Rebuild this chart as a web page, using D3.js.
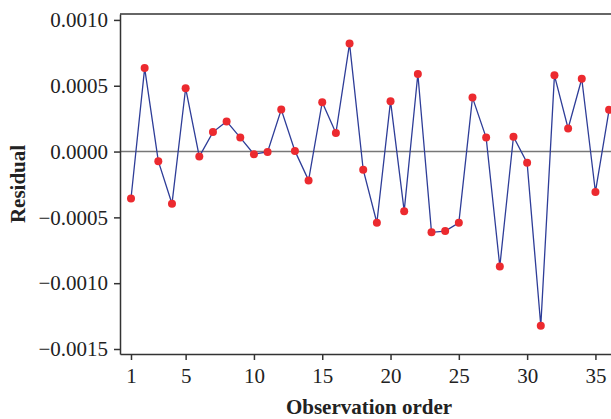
<!DOCTYPE html>
<html>
<head>
<meta charset="utf-8">
<script src="https://cdn.jsdelivr.net/npm/d3@7"></script>
<style>
  body { margin: 0; background: #fff; }
  svg { display: block; }
</style>
</head>
<body>
<svg id="chart" width="611" height="419"></svg>
<script>
// residuals in observation order
var observations = d3.range(1, 37);
var residuals = [
  -0.000357, 0.000634, -0.000073, -0.000397, 0.000481, -0.000038, 0.000148, 0.000229, 0.000106, -0.000020,
  -0.000003, 0.000319, 0.000005, -0.000219, 0.000375, 0.000141, 0.000820, -0.000138, -0.000541, 0.000383,
  -0.000453, 0.000589, -0.000614, -0.000604, -0.000541, 0.000410, 0.000106, -0.000873, 0.000113, -0.000086,
  -0.001323, 0.000579, 0.000176, 0.000553, -0.000307, 0.000317
];
var xTicks = [1, 5, 10, 15, 20, 25, 30, 35];
var yTicks = [0.0010, 0.0005, 0.0000, -0.0005, -0.0010, -0.0015];

function drawResidualPlot(svg_id) {
    var svg = d3.select("#" + svg_id),
        margin = {top: 14, left: 120, bottom: 65, right: 0},
        width = 611,
        height = 419;

    var data = observations.map((o, i) => ({obs: o, res: residuals[i]}));

    var x = d3.scaleLinear()
        .domain([0.195, 36.14])
        .range([margin.left, width - margin.right]);

    var y = d3.scaleLinear()
        .domain([-0.001538, 0.001045])
        .range([height - margin.bottom, margin.top]);

    var fmt = v => (v < 0 ? "\u2212" : "") + Math.abs(v).toFixed(4);

    // frame top
    svg.append("line")
        .attr("x1", margin.left).attr("x2", width)
        .attr("y1", margin.top).attr("y2", margin.top)
        .attr("stroke", "#333").attr("stroke-width", 1.5);

    // zero reference line
    svg.append("line")
        .attr("x1", margin.left).attr("x2", width)
        .attr("y1", y(0)).attr("y2", y(0))
        .attr("stroke", "#777").attr("stroke-width", 1.5);

    var yAxis = svg.append("g")
        .attr("transform", `translate(${margin.left},0)`)
        .call(d3.axisLeft(y).tickValues(yTicks).tickFormat(fmt).tickSize(6).tickSizeOuter(0).tickPadding(6));

    var xAxis = svg.append("g")
        .attr("transform", `translate(0,${height - margin.bottom})`)
        .call(d3.axisBottom(x).tickValues(xTicks).tickSize(6).tickSizeOuter(0).tickPadding(8));

    svg.selectAll(".domain, .tick line").attr("stroke", "#333").attr("stroke-width", 1.5);
    svg.selectAll(".tick text")
        .style("font-family", "'Liberation Serif', serif")
        .style("font-size", "21px")
        .attr("fill", "#222");

    // line + points
    var line = d3.line().x(d => x(d.obs)).y(d => y(d.res));
    svg.append("path")
        .datum(data)
        .attr("fill", "none")
        .attr("stroke", "#2e3d98")
        .attr("stroke-width", 1.3)
        .attr("d", line);

    svg.selectAll("circle.pt")
        .data(data)
        .enter().append("circle")
        .attr("class", "pt")
        .attr("cx", d => x(d.obs))
        .attr("cy", d => y(d.res))
        .attr("r", 4)
        .attr("fill", "#ec2a2f");

    // titles
    svg.append("text")
        .attr("transform", "translate(25,184) rotate(-90)")
        .attr("text-anchor", "middle")
        .style("font-family", "'Liberation Serif', serif")
        .style("font-weight", "bold")
        .style("font-size", "21px")
        .attr("fill", "#222")
        .text("Residual");

    svg.append("text")
        .attr("x", 369).attr("y", 414)
        .attr("text-anchor", "middle")
        .style("font-family", "'Liberation Serif', serif")
        .style("font-weight", "bold")
        .style("font-size", "21px")
        .attr("fill", "#222")
        .text("Observation order");
}

drawResidualPlot("chart");
</script>
</body>
</html>
